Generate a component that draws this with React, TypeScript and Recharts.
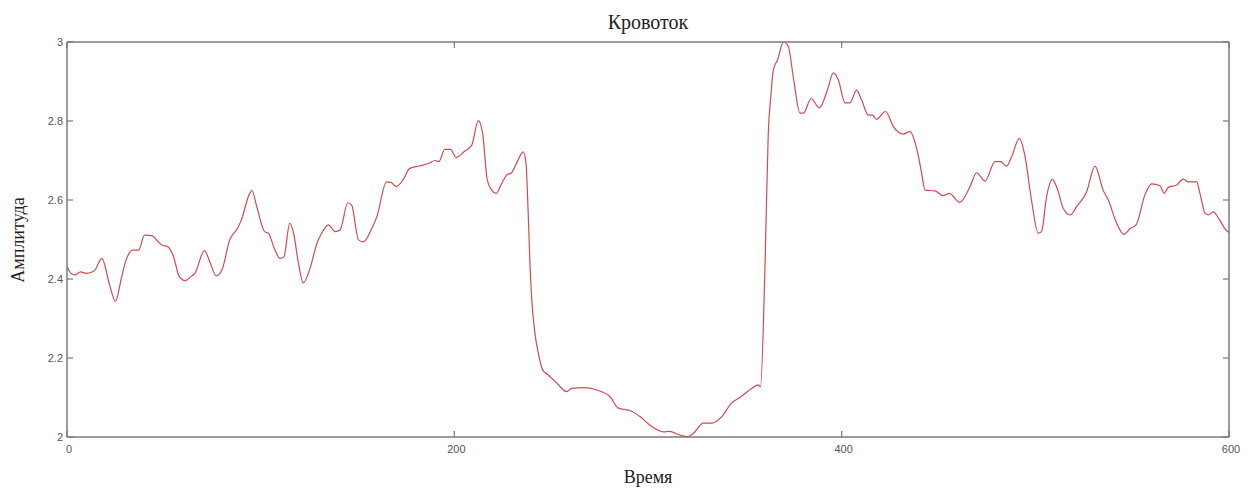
import React from 'react';
import { LineChart, Line, XAxis, YAxis } from 'recharts';

const time = [0,2,4,7,10,14,18,22,25,28,30,34,37,40,44,46,49,52,55,58,61,64,66,71,74,77,80,84,88,90,94,95.5,98,102,104,107,110,112,115,117,119.5,122,125.5,129,131.5,135,138.5,141,145,147,150.5,153,157,160,165,167.5,170,173.5,177,182,187,190,192,195,198,201,205,209,212.4,214.6,217,219.3,221.5,224.5,227,229.6,232.2,235.6,237,238.2,239.1,240,241.6,243.4,245.6,248.5,253,258,260.6,266.6,273.5,280.4,284.7,290.7,296,301,308,311,316.5,320,323.4,328.5,333,338,343,348,353.5,357,358.1,360.4,362.1,363.4,364.7,366.8,370,372.5,375,378.5,380.3,384.2,388.5,392.6,395.7,398.3,401.7,404.3,407.7,410.3,413.8,416,418,422.6,426.7,431.8,435.3,438.7,441.3,443,448.2,452.5,455.6,461,466.3,469.7,474,479.2,482,485.2,487.8,491.7,494.7,498,501.5,503.2,505.8,508.8,511.3,514.4,518,521.3,526.5,530.8,535,537.7,542,545.8,549,552,556.6,560,564.4,566.5,568.7,573,576.4,579,583.3,585,587.7,589.4,592,594.6,598.8,600];

const amplitude = [2.431,2.415,2.41,2.418,2.414,2.42,2.452,2.385,2.343,2.40,2.44,2.473,2.473,2.511,2.51,2.50,2.486,2.482,2.457,2.406,2.396,2.406,2.414,2.472,2.44,2.408,2.423,2.499,2.528,2.549,2.613,2.624,2.583,2.52,2.516,2.478,2.452,2.456,2.541,2.516,2.44,2.39,2.427,2.49,2.516,2.537,2.52,2.524,2.593,2.587,2.499,2.494,2.524,2.558,2.646,2.644,2.634,2.651,2.68,2.686,2.693,2.70,2.697,2.728,2.728,2.708,2.722,2.739,2.801,2.769,2.651,2.625,2.617,2.642,2.663,2.669,2.694,2.722,2.693,2.558,2.431,2.347,2.263,2.212,2.17,2.157,2.136,2.115,2.123,2.125,2.119,2.102,2.073,2.067,2.051,2.03,2.013,2.014,2.005,2.001,2.009,2.035,2.035,2.051,2.085,2.102,2.123,2.132,2.127,2.431,2.769,2.862,2.929,2.954,3.0,2.988,2.912,2.82,2.82,2.857,2.833,2.878,2.922,2.904,2.846,2.846,2.878,2.853,2.815,2.815,2.804,2.824,2.786,2.767,2.773,2.731,2.668,2.625,2.623,2.611,2.617,2.594,2.634,2.669,2.648,2.697,2.697,2.686,2.71,2.756,2.71,2.60,2.516,2.52,2.608,2.652,2.629,2.579,2.562,2.583,2.621,2.686,2.625,2.60,2.541,2.513,2.528,2.537,2.613,2.641,2.636,2.617,2.632,2.638,2.653,2.646,2.646,2.617,2.566,2.562,2.57,2.554,2.522,2.518];

const xTicks = [0, 200, 400, 600];
const yTicks = [2, 2.2, 2.4, 2.6, 2.8, 3];

const title = 'Кровоток';
const xLabel = 'Время';
const yLabel = 'Амплитуда';

const data = time.map((t, i) => ({ t, a: amplitude[i] }));

const AX = '#7a7a7a';
const TXT = '#555';
const tickFont = { fontFamily: 'Liberation Sans, Arial, sans-serif', fontSize: 11, fill: TXT };

const LeftTick = (p: any) => (
  <g>
    <line x1={p.x} x2={p.x + 6} y1={p.y} y2={p.y} stroke={AX} strokeWidth={1.2} />
    <text x={p.x - 4} y={p.y} textAnchor="end" dominantBaseline="central" {...tickFont}>
      {String(p.payload.value)}
    </text>
  </g>
);
const RightTick = (p: any) => (
  <line x1={p.x} x2={p.x - 6} y1={p.y} y2={p.y} stroke={AX} strokeWidth={1.2} />
);
const BottomTick = (p: any) => (
  <g>
    <line x1={p.x} x2={p.x} y1={p.y} y2={p.y - 6} stroke={AX} strokeWidth={1.2} />
    <text x={p.x + 2} y={p.y + 12} textAnchor="middle" dominantBaseline="central" {...tickFont}>
      {String(p.payload.value)}
    </text>
  </g>
);
const TopTick = (p: any) => (
  <line x1={p.x} x2={p.x} y1={p.y} y2={p.y + 6} stroke={AX} strokeWidth={1.2} />
);

const serif = 'Liberation Serif, "Times New Roman", serif';

export default function App() {
  return (
    <div style={{ position: 'absolute', left: 0, top: 0, width: 1248, height: 490, background: '#fff' }}>
      <LineChart width={1248} height={490} data={data} margin={{ top: 0, right: 0, bottom: 0, left: 0 }}>
        <XAxis xAxisId="b" dataKey="t" type="number" domain={[0, 600]} ticks={xTicks} allowDataOverflow
          height={53} orientation="bottom" tickSize={0} tickMargin={0}
          axisLine={{ stroke: AX, strokeWidth: 1.5 }} tickLine={false} tick={<BottomTick />} />
        <XAxis xAxisId="t" dataKey="t" type="number" domain={[0, 600]} ticks={xTicks} allowDataOverflow
          height={42} orientation="top" tickSize={0} tickMargin={0}
          axisLine={{ stroke: AX, strokeWidth: 1.5 }} tickLine={false} tick={<TopTick />} />
        <YAxis yAxisId="l" type="number" domain={[2, 3]} ticks={yTicks} allowDataOverflow
          width={67} orientation="left" tickSize={0} tickMargin={0}
          axisLine={{ stroke: AX, strokeWidth: 1.5 }} tickLine={false} tick={<LeftTick />} />
        <YAxis yAxisId="r" type="number" domain={[2, 3]} ticks={yTicks} allowDataOverflow
          width={19} orientation="right" tickSize={0} tickMargin={0}
          axisLine={{ stroke: AX, strokeWidth: 1.5 }} tickLine={false} tick={<RightTick />} />
        <Line xAxisId="b" yAxisId="l" dataKey="a" type="monotone" stroke="#d44a4e" strokeWidth={1.2}
          dot={false} isAnimationActive={false} />
      </LineChart>
      <div style={{ position: 'absolute', left: 0, width: 1296, top: 9, textAlign: 'center', fontFamily: serif, fontSize: 20, color: '#222', lineHeight: '26px' }}>{title}</div>
      <div style={{ position: 'absolute', left: 0, width: 1296, top: 465, textAlign: 'center', fontFamily: serif, fontSize: 18, color: '#222', lineHeight: '24px' }}>{xLabel}</div>
      <div style={{ position: 'absolute', left: 18, top: 240, width: 0, height: 0 }}>
        <div style={{ position: 'absolute', left: -60, top: -12, width: 120, textAlign: 'center', transform: 'rotate(-90deg)', fontFamily: serif, fontSize: 18, color: '#222', lineHeight: '24px' }}>{yLabel}</div>
      </div>
    </div>
  );
}
